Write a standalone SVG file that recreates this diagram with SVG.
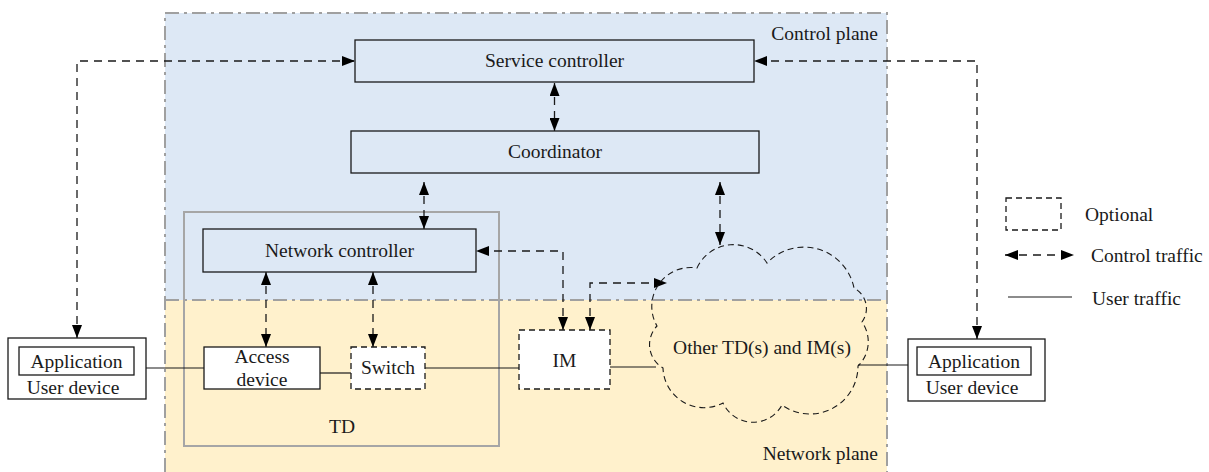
<svg xmlns="http://www.w3.org/2000/svg" width="1209" height="472" viewBox="0 0 1209 472" font-family="'Liberation Serif', 'Times New Roman', Times, 'DejaVu Serif', serif" font-size="19.5">
<style>
text{fill:#1a1a1a}
.c{text-anchor:middle}
.e{text-anchor:end}
.box{fill:none;stroke:#1a1a1a;stroke-width:1.3}
.wbox{fill:#fff;stroke:#1a1a1a;stroke-width:1.3}
.opt{fill:#fff;stroke:#1a1a1a;stroke-width:1.3;stroke-dasharray:6 4}
.ctl{fill:none;stroke:#1a1a1a;stroke-width:1.3;stroke-dasharray:8 6;marker-start:url(#ah);marker-end:url(#ah)}
.usr{fill:none;stroke:#1a1a1a;stroke-width:1.2}
.plane{fill:none;stroke:#a0a0a0;stroke-width:2;stroke-dasharray:14 5 3 5}
</style>
<defs>
<marker id="ah" markerUnits="userSpaceOnUse" markerWidth="13" markerHeight="10" refX="13" refY="5" orient="auto-start-reverse">
<path d="M0,0 L13,5 L0,10 z" fill="#000"/>
</marker>
</defs>
<rect width="1209" height="472" fill="#fff"/>
<g id="planes">
<rect x="165" y="13" width="722" height="287" fill="#dde8f5"/>
<rect x="165" y="300" width="722" height="172" fill="#fff1cc"/>
<path class="plane" d="M165,472 V13 H887 V472 M165,300 H887"/>
<text class="e" x="878" y="40">Control plane</text>
<text class="e" x="878" y="460">Network plane</text>
</g>
<g id="td">
<rect x="184" y="212" width="315" height="234" fill="none" stroke="#a6a6a6" stroke-width="2"/>
<text class="c" x="342" y="433">TD</text>
</g>
<g id="connectors">
<path class="ctl" d="M77,338 V61 H355"/>
<path class="ctl" d="M977,339 V61 H754"/>
<path class="ctl" d="M554.5,83 V131"/>
<path class="ctl" d="M424,182 V229"/>
<path class="ctl" d="M720,182 V245"/>
<path class="ctl" d="M266,272 V347"/>
<path class="ctl" d="M373,272 V347"/>
<path class="ctl" d="M563,330 V251 H476"/>
<path class="ctl" d="M590,330 V283 H667"/>
<path class="usr" d="M146,368 H204"/>
<path class="usr" d="M320,373 H351"/>
<path class="usr" d="M425,368 H519"/>
<path class="usr" d="M610,367 H656"/>
<path class="usr" d="M858,365 H908" stroke="#555"/>
</g>
<g id="service-controller">
<rect class="box" x="355" y="40" width="399" height="42"/>
<text class="c" x="554.5" y="67">Service controller</text>
</g>
<g id="coordinator">
<rect class="box" x="351" y="131" width="408" height="42"/>
<text class="c" x="555" y="158">Coordinator</text>
</g>
<g id="network-controller">
<rect class="box" x="203" y="229" width="273" height="43"/>
<text class="c" x="339.5" y="257">Network controller</text>
</g>
<g id="user-device-left">
<rect class="wbox" x="8" y="338" width="138" height="61"/>
<rect class="wbox" x="19" y="347" width="115" height="28"/>
<text class="c" x="76.5" y="368">Application</text>
<text class="c" x="73" y="394">User device</text>
</g>
<g id="access-device">
<rect class="wbox" x="204" y="347" width="116" height="42"/>
<text class="c" x="262" y="363">Access</text>
<text class="c" x="262" y="386">device</text>
</g>
<g id="switch">
<rect class="opt" x="351" y="347" width="74" height="42"/>
<text class="c" x="388" y="374">Switch</text>
</g>
<g id="im">
<rect class="opt" x="519" y="330" width="91" height="59"/>
<text class="c" x="564.5" y="367">IM</text>
</g>
<g id="cloud">
<path d="M697,268 A40,40 0 0 1 767,263 A51,51 0 0 1 854,288 A23,23 0 0 1 862,322 A34,34 0 0 1 858,366 A48,48 0 0 1 782,405 A33,33 0 0 1 723,403 A41,41 0 0 1 663,368 A27,27 0 0 1 657,326 A39,39 0 0 1 697,268 Z" fill="none" stroke="#1a1a1a" stroke-width="1.1" stroke-dasharray="6 4"/>
<text class="c" x="762" y="354">Other TD(s) and IM(s)</text>
</g>
<g id="user-device-right">
<rect class="wbox" x="908" y="339" width="137" height="62"/>
<rect class="wbox" x="917" y="347" width="114" height="28"/>
<text class="c" x="974" y="368">Application</text>
<text class="c" x="972" y="394">User device</text>
</g>
<g id="legend">
<rect class="opt" x="1006" y="198" width="55" height="32"/>
<text x="1085" y="221">Optional</text>
<path class="ctl" d="M1005,255 H1074"/>
<text x="1091" y="262">Control traffic</text>
<path class="usr" d="M1008,297 H1072"/>
<text x="1092" y="305">User traffic</text>
</g>
</svg>
